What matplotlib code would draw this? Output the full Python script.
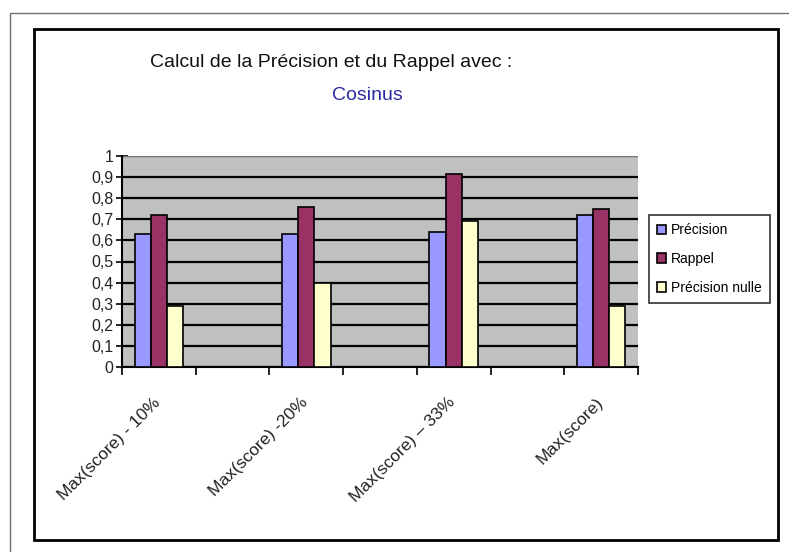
import matplotlib.pyplot as plt
import matplotlib.transforms as mtransforms
import numpy as np
from matplotlib.patches import Rectangle

plt.rcParams['font.family'] = ['Liberation Sans', 'DejaVu Sans']

# data (empty categories in between)
categories = ['Max(score) - 10%', '', 'Max(score) -20%', '', 'Max(score) \u2013 33%', '', 'Max(score)']
precision = [0.63, np.nan, 0.63, np.nan, 0.64, np.nan, 0.72]
rappel = [0.72, np.nan, 0.76, np.nan, 0.915, np.nan, 0.75]
precision_nulle = [0.29, np.nan, 0.40, np.nan, 0.69, np.nan, 0.29]
series_names = ['Précision', 'Rappel', 'Précision nulle']
colors = ['#9999FF', '#993366', '#FFFFCC']
y_ticks = [0, 0.1, 0.2, 0.3, 0.4, 0.5, 0.6, 0.7, 0.8, 0.9, 1]
y_labels = ['0', '0,1', '0,2', '0,3', '0,4', '0,5', '0,6', '0,7', '0,8', '0,9', '1']

W, H = 789, 552
fig = plt.figure(figsize=(W / 100, H / 100), dpi=100)
fig.patch.set_facecolor('white')

# outer frames
fig.patches.append(Rectangle((10 / W, 1 - 13 / H), 1, -1, transform=fig.transFigure,
                             fill=False, edgecolor='#707070', lw=1))
fig.patches.append(Rectangle((34 / W, 1 - 540 / H), (778 - 34) / W, (540 - 29) / H,
                             transform=fig.transFigure, fill=False, edgecolor='black', lw=2))

ax = fig.add_axes([122 / W, 1 - 367 / H, (638 - 122) / W, (367 - 156) / H])
ax.set_facecolor('#C0C0C0')

x = np.arange(len(categories))
bw = 0.22
for i, (vals, name, c) in enumerate(zip([precision, rappel, precision_nulle], series_names, colors)):
    ax.bar(x + (i - 1) * bw, vals, bw, color=c, edgecolor='black', linewidth=1.2,
           label=name, zorder=3)

ax.set_xlim(-0.5, len(categories) - 0.5)
ax.set_ylim(0, 1)
ax.set_yticks(y_ticks)
ax.set_yticklabels(y_labels, fontsize=11.5, color='#222222')
ax.yaxis.grid(True, color='black', lw=1.6, zorder=1)
ax.set_axisbelow(True)
ax.tick_params(axis='y', direction='inout', length=8, width=1.2, pad=2)

# ticks at category boundaries, labels at centres
ax.set_xticks(np.arange(len(categories) + 1) - 0.5)
ax.set_xticklabels([])
ax.tick_params(axis='x', which='major', direction='out', length=6, width=1.2)
ax.set_xticks(x, minor=True)
ax.set_xticklabels(categories, minor=True, rotation=45, ha='right',
                   rotation_mode='anchor', fontsize=12.5, color='#222222')
ax.tick_params(axis='x', which='minor', length=0, pad=20)
shift = mtransforms.ScaledTranslation(-6 / 100, 0, fig.dpi_scale_trans)
for lab in ax.get_xticklabels(minor=True):
    lab.set_transform(lab.get_transform() + shift)

for s in ['top', 'right']:
    ax.spines[s].set_visible(False)
for s in ['left', 'bottom']:
    ax.spines[s].set_color('black')
    ax.spines[s].set_linewidth(1.5)
ax.axhline(1, color='#909090', lw=1.2, zorder=2)

leg = fig.legend(loc='upper left', bbox_to_anchor=(649 / W, 1 - 215 / H),
                 fontsize=10, frameon=True, fancybox=False, handlelength=0.6,
                 handleheight=0.7, handletextpad=0.4, labelspacing=1.05,
                 borderpad=0.6, borderaxespad=0)
leg.get_frame().set_edgecolor('black')
leg.get_frame().set_linewidth(1.2)

fig.text(331 / W, 1 - 62 / H, 'Calcul de la Précision et du Rappel avec :',
         ha='center', va='center', fontsize=14, color='#111111')
fig.text(367 / W, 1 - 95 / H, 'Cosinus', ha='center', va='center',
         fontsize=14, color='#2B2BA0')

fig.savefig('out.png', dpi=100)
